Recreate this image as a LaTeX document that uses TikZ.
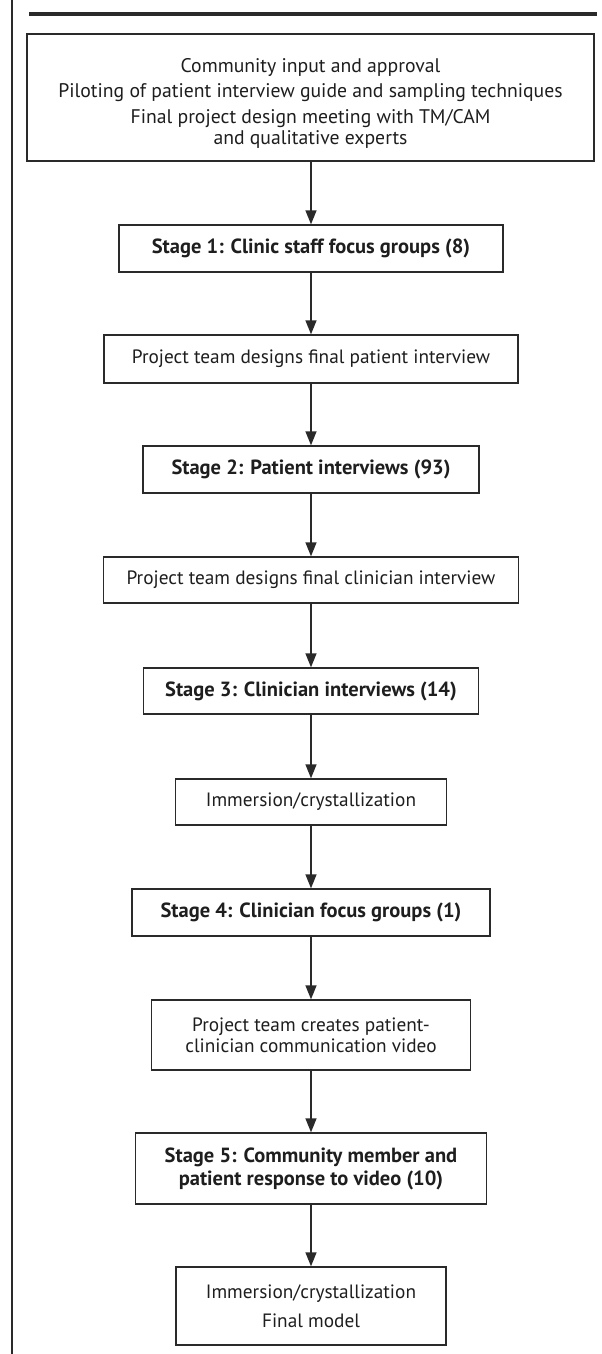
\documentclass[tikz,border=0pt]{standalone}
\usepackage{fontspec}
\setmainfont{PT Sans}
\usetikzlibrary{arrows.meta}
\definecolor{ink}{HTML}{2A2A2A}
\definecolor{txt}{HTML}{1E1E1E}
\tikzset{
  box/.style={draw=ink, line width=1.4pt, fill=white, inner sep=0pt, align=center, text=txt,
    font=\fontsize{19.3}{21}\selectfont},
  stagebox/.style={box, font=\fontsize{20.5}{23}\selectfont\bfseries},
  flow/.style={draw=ink, line width=1.4pt, -{Triangle[length=14pt,width=11pt]}},
}
\begin{document}
\begin{tikzpicture}[x=1pt,y=-1pt]
\useasboundingbox (0,0) rectangle (602,1354);
\fill[white] (0,0) rectangle (602,1354);
% frame elements
\draw[ink, line width=1.5pt] (12,0) -- (12,1354);
\draw[ink, line width=3.6pt] (29,14) -- (597,14);
% nodes
\node[box, font=\fontsize{19.7}{21}\selectfont, minimum width=567pt, minimum height=127pt] (top) at (310.5,97.5)
  {\rule{0pt}{26pt}Community input and approval\\[4pt]
   Piloting of patient interview guide and sampling techniques\\[5pt]
   Final project design meeting with TM/CAM\\
   and qualitative experts};
\node[stagebox, minimum width=384pt, minimum height=47pt] (s1) at (311,248.5)
  {Stage 1: Clinic staff focus groups (8)};
\node[box, minimum width=414pt, minimum height=48pt] (d1) at (311,359)
  {Project team designs final patient interview};
\node[stagebox, minimum width=336pt, minimum height=47pt] (s2) at (311,469.5)
  {Stage 2: Patient interviews (93)};
\node[box, minimum width=415pt, minimum height=46pt] (d2) at (311,580)
  {Project team designs final clinician interview};
\node[stagebox, minimum width=335pt, minimum height=46pt] (s3) at (311,691)
  {Stage 3: Clinician interviews (14)};
\node[box, minimum width=271pt, minimum height=46pt] (imm) at (311,802)
  {Immersion/crystallization};
\node[stagebox, minimum width=358pt, minimum height=47pt] (s4) at (311,912.5)
  {Stage 4: Clinician focus groups (1)};
\node[box, minimum width=319pt, minimum height=70pt] (vid) at (311,1035)
  {Project team creates patient-\\clinician communication video};
\node[stagebox, minimum width=351pt, minimum height=71pt] (s5) at (311,1168.5)
  {Stage 5: Community member and\\patient response to video (10)};
\node[box, minimum width=270pt, minimum height=78pt] (fin) at (311,1306)
  {Immersion/crystallization\\[8pt]Final model};
% connectors
\draw[flow] (top.south -| s1) -- (s1);
\draw[flow] (s1) -- (d1);
\draw[flow] (d1) -- (s2);
\draw[flow] (s2) -- (d2);
\draw[flow] (d2) -- (s3);
\draw[flow] (s3) -- (imm);
\draw[flow] (imm) -- (s4);
\draw[flow] (s4) -- (vid);
\draw[flow] (vid) -- (s5);
\draw[flow] (s5) -- (fin);
\end{tikzpicture}
\end{document}
